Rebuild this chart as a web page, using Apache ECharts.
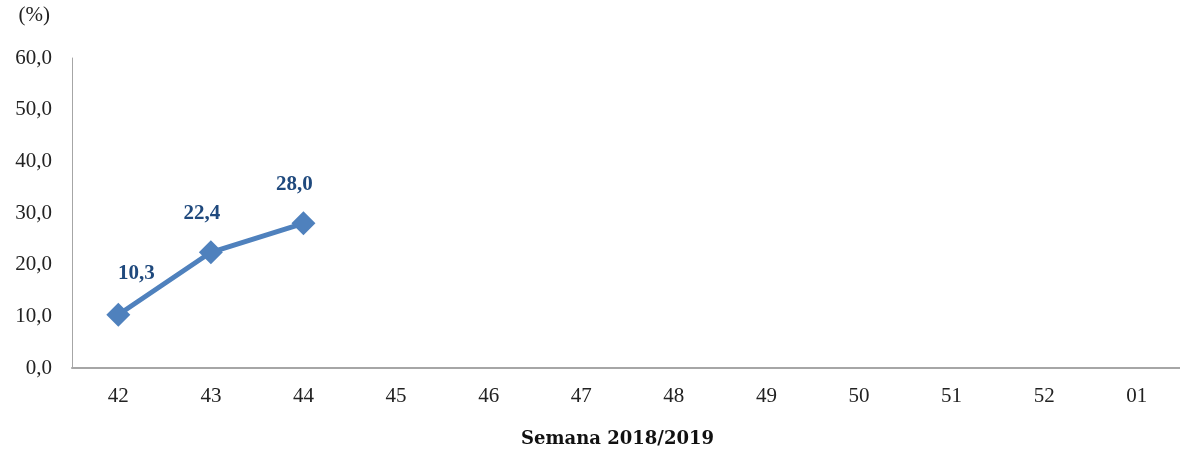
<!DOCTYPE html>
<html>
<head>
<meta charset="utf-8">
<script src="https://cdn.jsdelivr.net/npm/echarts@6/dist/echarts.min.js"></script>
<style>
html,body{margin:0;padding:0;background:#fff;}
#c{width:1180px;height:450px;}
</style>
</head>
<body>
<div id="c"></div>
<script>
const categories = ['42','43','44','45','46','47','48','49','50','51','52','01'];
const values = [10.3, 22.4, 28.0];
const yTicks = [0, 10, 20, 30, 40, 50, 60];
const yAxisUnit = '(%)';
const xAxisTitle = 'Semana 2018/2019';

const font = '"Liberation Serif", "Times New Roman", serif';
const labelShift = [[18, -3], [-9, 0], [-9, 0]];

const chart = echarts.init(document.getElementById('c'), null, {renderer: 'canvas'});
chart.setOption({
  animation: false,
  backgroundColor: '#fff',
  grid: {left: 72, right: -3, top: 58, bottom: 82, containLabel: false, outerBoundsMode: 'none'},
  xAxis: {
    type: 'category',
    data: categories,
    boundaryGap: true,
    axisLine: {lineStyle: {color: '#A6A6A6', width: 2}},
    axisTick: {show: false},
    axisLabel: {color: '#222', fontFamily: font, fontSize: 21, margin: 18},
    name: xAxisTitle,
    nameLocation: 'middle',
    nameGap: 62,
    nameTextStyle: {color: '#111', fontFamily: '"DejaVu Serif", serif', fontSize: 18, fontWeight: 'bold', padding: [0, 20, 0, 0]}
  },
  yAxis: {
    type: 'value',
    min: yTicks[0],
    max: yTicks[yTicks.length - 1],
    interval: 10,
    axisLine: {show: true, lineStyle: {color: '#A6A6A6', width: 1}},
    axisTick: {show: false},
    splitLine: {show: false},
    axisLabel: {
      color: '#222', fontFamily: font, fontSize: 21, margin: 20,
      formatter: v => v.toFixed(1).replace('.', ',')
    },
    name: yAxisUnit,
    nameLocation: 'end',
    nameGap: 32,
    nameTextStyle: {color: '#222', fontFamily: font, fontSize: 21, align: 'right', padding: [0, 22, 0, 0]}
  },
  series: [{
    type: 'line',
    data: values.map((v, i) => ({value: v, label: {offset: labelShift[i]}})),
    symbol: 'diamond',
    symbolSize: 24,
    lineStyle: {color: '#4F81BD', width: 5},
    itemStyle: {color: '#4F81BD'},
    label: {
      show: true,
      position: 'top',
      distance: 16,
      color: '#1F497D',
      fontFamily: font,
      fontSize: 21,
      fontWeight: 'bold',
      formatter: p => p.value.toFixed(1).replace('.', ',')
    }
  }]
});
</script>
</body>
</html>
